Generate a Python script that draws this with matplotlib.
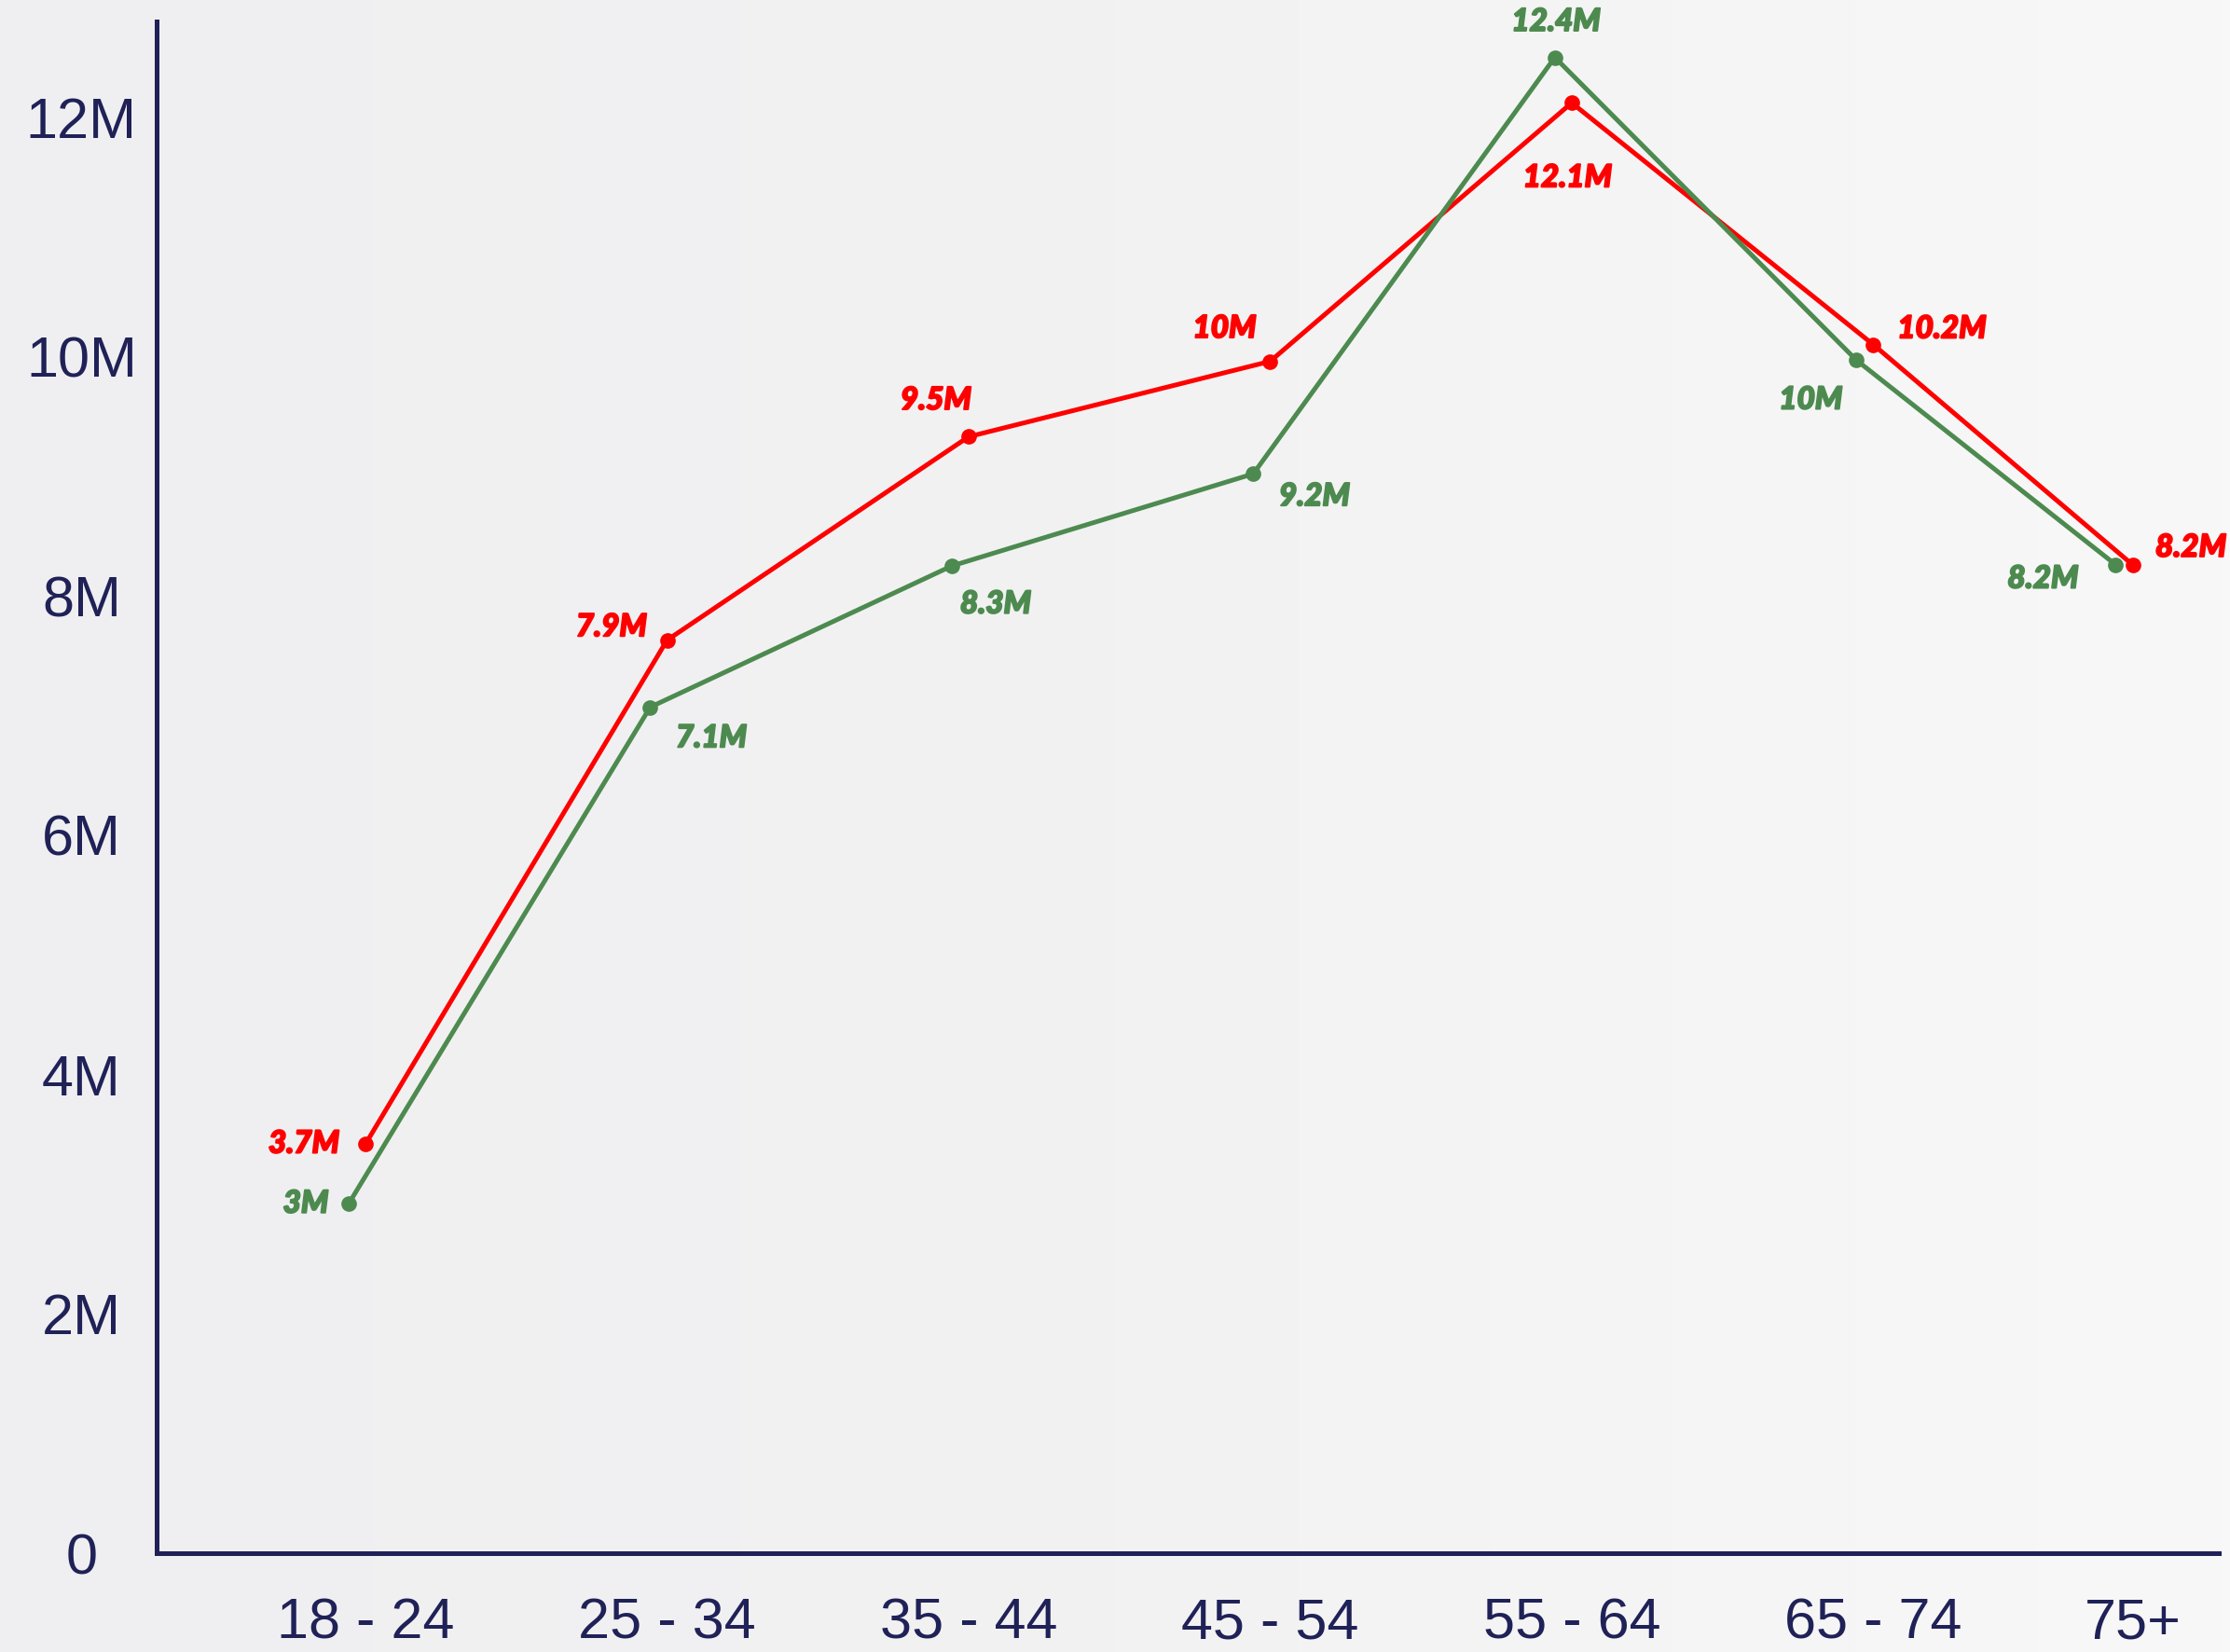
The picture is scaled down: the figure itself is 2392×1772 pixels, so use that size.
import numpy as np
import matplotlib
matplotlib.use("Agg")
import matplotlib.pyplot as plt
import matplotlib.patheffects as pe

# data
age_groups = ["18 - 24", "25 - 34", "35 - 44", "45 - 54", "55 - 64", "65 - 74", "75+"]
red_values = [3.42, 7.63, 9.33, 9.96, 12.12, 10.1, 8.26]      # millions, as plotted
green_values = [2.92, 7.07, 8.25, 9.02, 12.5, 9.97, 8.26]
red_labels = ["3.7M", "7.9M", "9.5M", "10M", "12.1M", "10.2M", "8.2M"]
green_labels = ["3M", "7.1M", "8.3M", "9.2M", "12.4M", "10M", "8.2M"]
y_ticks = [0, 2, 4, 6, 8, 10, 12]
y_tick_labels = ["0", "2M", "4M", "6M", "8M", "10M", "12M"]

navy = "#1f2157"
red = "#ff0000"
green = "#4d8a4f"

fig = plt.figure(figsize=(11.96, 8.86), dpi=200)

# soft grey backdrop, a bit lighter to the right
bg = fig.add_axes([0, 0, 1, 1], zorder=-10)
grad = np.linspace(0, 1, 256).reshape(1, -1)
bg.imshow(grad, aspect="auto", cmap=matplotlib.colors.LinearSegmentedColormap.from_list(
    "bg", ["#efeff1", "#f2f2f3", "#f8f8f8"]), extent=[0, 1, 0, 1])
bg.axis("off")

ax = fig.add_axes([0.0702, 0.0598, 0.9248, 0.9272])
ax.patch.set_alpha(0)

x = np.arange(len(age_groups), dtype=float)
x[-1] -= 0.14  # last group is squeezed against the right edge in the source
xg = x - 0.056  # green series sits a touch left of the category

ax.plot(x, red_values, color=red, lw=1.8, marker="o", ms=5, zorder=3)
ax.plot(xg, green_values, color=green, lw=1.8, marker="o", ms=5, zorder=3)

label_font = dict(family=["Lato", "DejaVu Sans"], fontweight="black", style="italic", fontsize=12)

# (dx, dy, ha) in points
red_offsets = [(-10, 0, "right"), (-7.7, 5, "right"), (-12.6, 14, "center"), (-17.6, 12.6, "center"),
               (-1.6, -29, "center"), (9.3, 6, "left"), (8.8, 6.6, "left")]
green_offsets = [(-7.7, 0, "right"), (9.9, -12, "left"), (17, -14.8, "center"), (9.9, -8.8, "left"),
                 (0.5, 13.7, "center"), (-17.6, -15.4, "center"), (-14.3, -5.5, "right")]

for xs, vals, labs, offs, col in [(x, red_values, red_labels, red_offsets, red),
                                  (xg, green_values, green_labels, green_offsets, green)]:
    for xi, yi, lab, (dx, dy, ha) in zip(xs, vals, labs, offs):
        ax.annotate(lab, (xi, yi), xytext=(dx, dy), textcoords="offset points",
                    ha=ha, va="center", color=col, annotation_clip=False,
                    path_effects=[pe.withStroke(linewidth=0.7, foreground=col)], **label_font)

ax.set_xlim(-0.693, 6.146)
ax.set_ylim(0, 12.8)

ax.set_xticks(x)
ax.set_xticklabels(age_groups)
ax.set_yticks(y_ticks)
ax.set_yticklabels(y_tick_labels)
for lab in ax.get_yticklabels():
    lab.set_ha("center")
ax.tick_params(axis="x", length=0, pad=17, labelsize=22, labelcolor=navy)
ax.tick_params(axis="y", length=0, pad=29, labelsize=22, labelcolor=navy)
for lab in ax.get_xticklabels() + ax.get_yticklabels():
    lab.set_fontfamily("Liberation Sans")

for side in ["top", "right"]:
    ax.spines[side].set_visible(False)
for side in ["left", "bottom"]:
    ax.spines[side].set_color(navy)
    ax.spines[side].set_linewidth(1.8)

fig.savefig("out.png", dpi=200)
